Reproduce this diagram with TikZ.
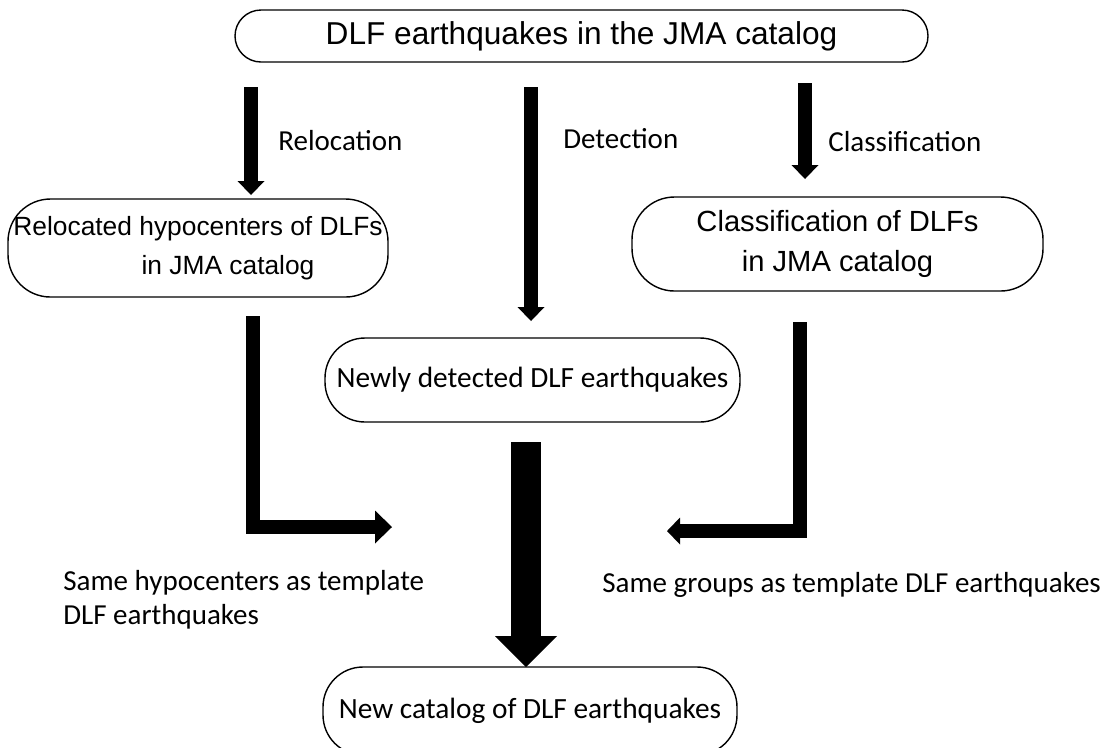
\documentclass[tikz,border=0pt]{standalone}
\usepackage{fontspec}
\setmainfont{Liberation Sans}
\newfontfamily\calibfont{Carlito}
\usetikzlibrary{arrows.meta}
\begin{document}
\begin{tikzpicture}[
    stadium/.style={rectangle, draw=black, thick, inner sep=0pt, align=center},
    flow/.style={line width=0.28cm, -{Triangle[length=0.28cm, width=0.54cm, line width=0pt]}},
    note/.style={anchor=base west, align=left, inner sep=0pt, font=\calibfont\fontsize{16.5}{19.6}\selectfont}
]
    \useasboundingbox (0,0) rectangle (22.18,-14.94);

    % boxes
    \node[stadium, rounded corners=0.52cm, minimum width=13.86cm, minimum height=1.04cm, font=\fontsize{18}{21}\selectfont] at (11.63,-0.72) (jma) {DLF earthquakes in the JMA catalog};
    \node[stadium, rounded corners=0.85cm, minimum width=7.6cm, minimum height=1.96cm, font=\fontsize{15}{22.4}\selectfont] at (3.96,-4.96) (reloc) {Relocated hypocenters of DLFs\\\hspace*{1.2cm}in JMA catalog};
    \node[stadium, rounded corners=0.85cm, minimum width=8.22cm, minimum height=1.88cm, font=\fontsize{16.6}{22.4}\selectfont] at (16.75,-4.88) (class) {Classification of DLFs\\in JMA catalog};
    \node[stadium, rounded corners=0.8cm, minimum width=8.3cm, minimum height=1.68cm, font=\calibfont\fontsize{16.7}{19.6}\selectfont] at (10.65,-7.6) (detect) {Newly detected DLF earthquakes};
    \node[stadium, rounded corners=0.8cm, minimum width=8.28cm, minimum height=1.76cm, font=\calibfont\fontsize{16.7}{19.6}\selectfont] at (10.6,-14.22) (newcat) {New catalog of DLF earthquakes};

    % labels
    \node[note] at (5.56,-3.00) (lreloc) {Relocation};
    \node[note] at (11.26,-2.96) (ldetect) {Detection};
    \node[note] at (16.56,-3.02) (lclass) {Classification};
    \node[note, anchor=west] at (1.26,-12.0) (lhypo) {Same hypocenters as template\\DLF earthquakes};
    \node[note] at (12.04,-11.84) (lgroup) {Same groups as template DLF earthquakes};

    % arrow ends
    \coordinate (relS) at (5.02,-1.74);   \coordinate (relE) at (5.02,-3.90);
    \coordinate (detS) at (10.62,-1.74);  \coordinate (detE) at (10.62,-6.42);
    \coordinate (claS) at (16.10,-1.66);  \coordinate (claE) at (16.10,-3.58);
    \coordinate (hypS) at (5.06,-6.32);   \coordinate (hypE) at (7.84,-10.54);
    \coordinate (grpS) at (16.0,-6.44);   \coordinate (grpE) at (13.34,-10.62);
    \coordinate (newS) at (10.52,-8.84);  \coordinate (newE) at (10.52,-13.34);

    \draw[flow] (relS) -- (relE);
    \draw[flow] (detS) -- (detE);
    \draw[flow] (claS) -- (claE);
    \draw[flow, line join=miter, -{Triangle[length=0.34cm, width=0.66cm, line width=0pt]}] (hypS) |- (hypE);
    \draw[flow, line join=miter, -{Triangle[length=0.26cm, width=0.54cm, line width=0pt]}] (grpS) |- (grpE);
    \draw[line width=0.6cm, -{Triangle[length=0.62cm, width=1.24cm, line width=0pt]}] (newS) -- (newE);
\end{tikzpicture}
\end{document}
